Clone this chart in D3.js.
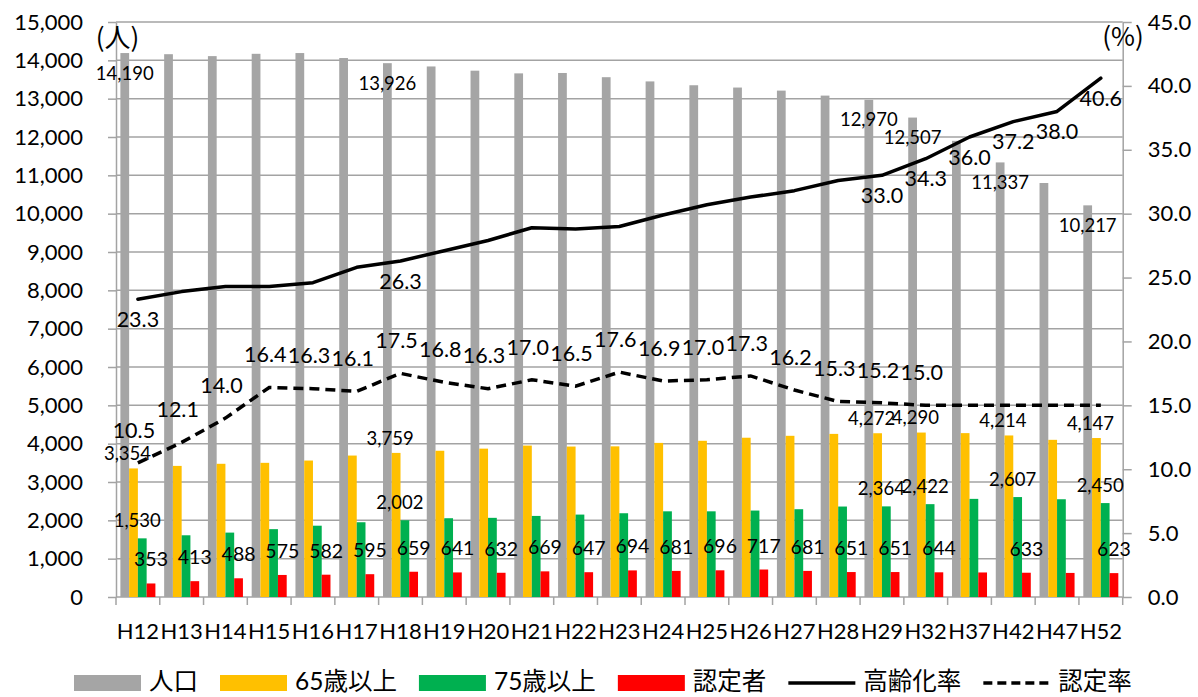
<!DOCTYPE html>
<html><head><meta charset="utf-8">
<script src="https://cdn.jsdelivr.net/npm/d3@7/dist/d3.min.js"></script>
<style>
html,body{margin:0;padding:0;background:#fff;}
svg{display:block;}
text{font-family:Lato,"Noto Sans CJK JP",sans-serif;fill:#000;}
</style></head>
<body>
<svg id="chart" width="1198" height="697"></svg>
<script>
// ---- data ----
const categories = ["H12","H13","H14","H15","H16","H17","H18","H19","H20","H21","H22","H23","H24","H25","H26","H27","H28","H29","H32","H37","H42","H47","H52"];
const population = [14190,14160,14110,14170,14190,14060,13926,13840,13730,13660,13670,13560,13450,13350,13290,13210,13080,12970,12507,11900,11337,10800,10217];
const age65 = [3354,3420,3475,3500,3560,3690,3759,3815,3870,3950,3925,3930,4020,4075,4155,4205,4255,4272,4290,4275,4214,4100,4147];
const age75 = [1530,1610,1680,1770,1860,1950,2002,2055,2065,2115,2150,2185,2235,2235,2255,2290,2360,2364,2422,2560,2607,2550,2450];
const certified = [353,413,488,575,582,595,659,641,632,669,647,694,681,696,717,681,651,651,644,640,633,628,623];
const agingRate = [23.3,23.9,24.3,24.3,24.6,25.8,26.3,27.1,27.9,28.9,28.8,29.0,29.9,30.7,31.3,31.8,32.6,33.0,34.3,36.0,37.2,38.0,40.6];
const certRate = [10.5,12.1,14.0,16.4,16.3,16.1,17.5,16.8,16.3,17.0,16.5,17.6,16.9,17.0,17.3,16.2,15.3,15.2,15.0,15.0,15.0,15.0,15.0];
const leftTicks = [0,1000,2000,3000,4000,5000,6000,7000,8000,9000,10000,11000,12000,13000,14000,15000];
const rightTicks = [0,5,10,15,20,25,30,35,40,45];
const barLabelYears = ["H12","H18","H29","H32","H42","H52"];
const certifiedLabelYears = ["H12","H13","H14","H15","H16","H17","H18","H19","H20","H21","H22","H23","H24","H25","H26","H27","H28","H29","H32","H42","H52"];
const agingLabelYears = ["H12","H18","H29","H32","H37","H42","H47","H52"];
const certRateLabelYears = ["H12","H13","H14","H15","H16","H17","H18","H19","H20","H21","H22","H23","H24","H25","H26","H27","H28","H29","H32"];
const barSeries = ["人口","65歳以上","75歳以上","認定者"];
const lineSeries = ["高齢化率","認定率"];
const leftUnit = "(人)";
const rightUnit = "(%)";

// ---- layout ----
const colors = {"人口":"#a5a5a5","65歳以上":"#ffc000","75歳以上":"#00b050","認定者":"#ff0000"};
const L = 116, R = 1122.7, T = 22, B = 597;
const svg = d3.select("#chart");
const x = d3.scaleBand().domain(categories).range([L, R]).padding(0);
const x1 = d3.scaleBand().domain(barSeries).range([0, x.bandwidth()]).paddingInner(0).paddingOuter(0.5);
const yL = d3.scaleLinear().domain([0, 15000]).range([B, T]);
const yR = d3.scaleLinear().domain([0, 45]).range([B, T]);
const gridColor = "#a3a3a3";

// gridlines
svg.append("g").selectAll("line").data(leftTicks.filter(d => d > 0)).join("line")
  .attr("x1", L).attr("x2", R).attr("y1", d => yL(d)).attr("y2", d => yL(d))
  .attr("stroke", gridColor).attr("stroke-width", 1.5);

// axes
const axL = svg.append("g").attr("transform", `translate(${L},0)`)
  .call(d3.axisLeft(yL).tickValues(leftTicks).tickFormat(d3.format(",")).tickSize(8).tickSizeOuter(0).tickPadding(25));
const axR = svg.append("g").attr("transform", `translate(${R},0)`)
  .call(d3.axisRight(yR).tickValues(rightTicks).tickFormat(d3.format(".1f")).tickSize(9).tickSizeOuter(0).tickPadding(16));
[axL, axR].forEach(a => {
  a.selectAll("path,line").attr("stroke", gridColor).attr("stroke-width", 1.5);
  a.selectAll("text").attr("font-size", 22).attr("fill", "#000");
});
// bottom axis
svg.append("line").attr("x1", L).attr("x2", R).attr("y1", B).attr("y2", B).attr("stroke", gridColor).attr("stroke-width", 1.5);
const edges = categories.map(c => x(c)).concat([R]);
svg.append("g").selectAll("line").data(edges).join("line")
  .attr("x1", d => d).attr("x2", d => d).attr("y1", B).attr("y2", B + 8)
  .attr("stroke", gridColor).attr("stroke-width", 1.5);
svg.append("g").selectAll("text").data(categories).join("text")
  .attr("x", d => x(d) + x.bandwidth() / 2).attr("y", 639)
  .attr("text-anchor", "middle").attr("font-size", 22).text(d => d);

// bars
const barData = [population, age65, age75, certified];
const rows = categories.map((c, i) => ({cat: c, vals: barSeries.map((s, k) => ({s, v: barData[k][i]}))}));
const gBars = svg.append("g");
rows.forEach(r => {
  gBars.selectAll(null).data(r.vals).join("rect")
    .attr("x", d => x(r.cat) + x1(d.s)).attr("width", x1.bandwidth())
    .attr("y", d => yL(d.v)).attr("height", d => B - yL(d.v))
    .attr("fill", d => colors[d.s]);
});

// lines
const lineGen = scaleY => d3.line().x((d, i) => x(categories[i]) + x.bandwidth() / 2).y(d => scaleY(d));
svg.append("path").datum(agingRate).attr("d", lineGen(yR))
  .attr("fill", "none").attr("stroke", "#000").attr("stroke-width", 3.5).attr("stroke-linejoin", "round").attr("stroke-linecap", "round");
svg.append("path").datum(certRate).attr("d", lineGen(yR))
  .attr("fill", "none").attr("stroke", "#000").attr("stroke-width", 3.5).attr("stroke-dasharray", "10,6");

// labels
const gLab = svg.append("g");
function lab(xp, cy, txt, size) {
  gLab.append("text").attr("x", xp).attr("y", cy + 0.36 * size)
    .attr("text-anchor", "middle").attr("font-size", size).text(txt);
}
const fmtInt = d3.format(","), fmt1 = d3.format(".1f");
categories.forEach((c, i) => {
  const cx = s => x(c) + x1(s) + x1.bandwidth() / 2;
  if (barLabelYears.includes(c)) {
    lab(cx("人口"), yL(population[i]) + 20, fmtInt(population[i]), 18.5);
    lab(cx("65歳以上") - 6, yL(age65[i]) - 15, fmtInt(age65[i]), 18.5);
    lab(cx("75歳以上") - 5, yL(age75[i]) - 18, fmtInt(age75[i]), 18.5);
  }
  if (certifiedLabelYears.includes(c)) lab(cx("認定者"), yL(certified[i]) - 24, fmtInt(certified[i]), 19.5);
  const px = x(c) + x.bandwidth() / 2;
  if (agingLabelYears.includes(c)) lab(px, yR(agingRate[i]) + 20, fmt1(agingRate[i]), 21.5);
  if (certRateLabelYears.includes(c)) lab(px - 4, yR(certRate[i]) - 33, fmt1(certRate[i]), 21.5);
});

// units
svg.append("text").attr("x", 117.5).attr("y", 47).attr("text-anchor", "middle")
  .attr("font-size", 26).style("font-family", "'Noto Sans CJK JP'").text(leftUnit);
svg.append("text").attr("x", 1123).attr("y", 46).attr("text-anchor", "middle")
  .attr("font-size", 26).style("font-family", "'Noto Sans CJK JP'").text(rightUnit);

// legend
const gLeg = svg.append("g");
let lx = 74;
const legItems = barSeries.map(s => ({name: s, type: "bar"})).concat([{name: lineSeries[0], type: "solid"}, {name: lineSeries[1], type: "dash"}]);
legItems.forEach(it => {
  if (it.type === "bar") {
    gLeg.append("rect").attr("x", lx).attr("y", 675).attr("width", 67).attr("height", 16).attr("fill", colors[it.name]);
  } else {
    gLeg.append("line").attr("x1", lx).attr("x2", lx + 67).attr("y1", 683).attr("y2", 683)
      .attr("stroke", "#000").attr("stroke-width", 3.5)
      .attr("stroke-dasharray", it.type === "dash" ? "9,5" : null);
  }
  const t = gLeg.append("text").attr("x", lx + 75).attr("y", 690).attr("font-size", 24.5).text(it.name);
  lx += 75 + t.node().getComputedTextLength() + 22;
});
</script>
</body></html>
